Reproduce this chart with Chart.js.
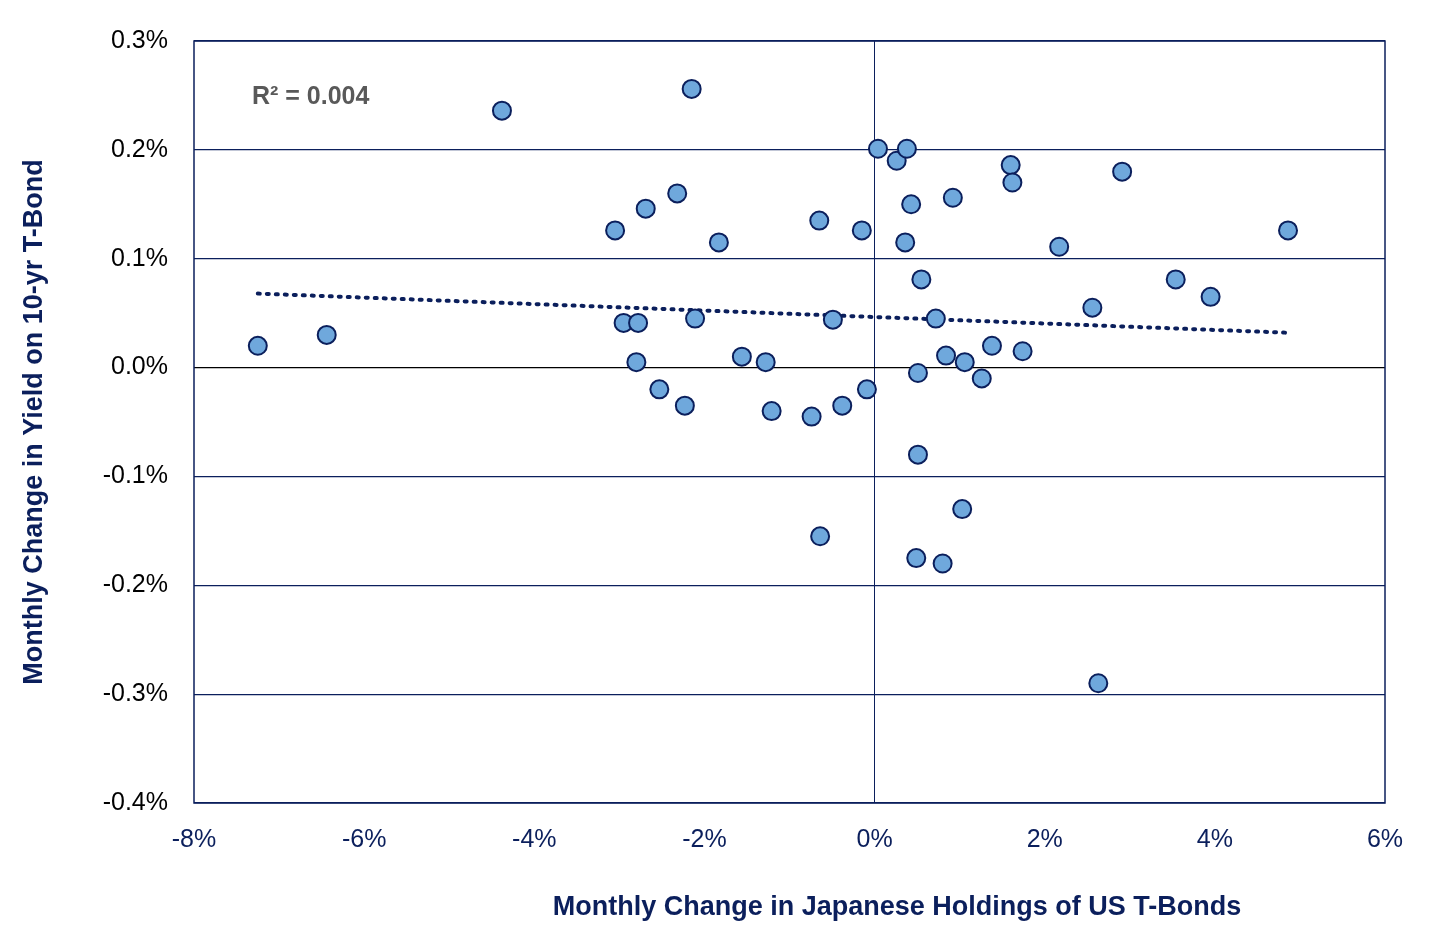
<!DOCTYPE html>
<html><head><meta charset="utf-8">
<script src="https://cdn.jsdelivr.net/npm/chart.js@4"></script>
<style>body{margin:0;background:#fff}#wrap{width:1456px;height:941px}</style>
</head><body><div id="wrap"><canvas id="c"></canvas></div>
<script>
// monthly change in Japanese holdings (%), monthly change in 10yr yield (%)
var holdings = [-7.25,-6.44,-4.38,-2.15,-3.05,-2.69,-2.32,-2.95,-2.78,-2.80,-2.53,-2.23,-2.11,-1.83,-1.56,-1.28,-1.21,-0.74,-0.65,-0.64,-0.49,-0.38,-0.15,-0.09,0.04,0.26,0.38,0.36,0.43,0.55,0.51,0.51,0.49,0.72,0.80,0.84,0.92,1.03,1.06,1.26,1.38,1.60,1.62,1.74,2.17,2.56,2.63,2.91,3.54,3.95,4.86];
var yieldChg = [0.020,0.030,0.236,0.256,0.126,0.146,0.160,0.041,0.041,0.005,-0.020,-0.035,0.045,0.115,0.010,0.005,-0.040,-0.045,0.135,-0.155,0.044,-0.035,0.126,-0.020,0.201,0.190,0.201,0.115,0.150,0.081,-0.005,-0.080,-0.175,0.045,-0.180,0.011,0.156,-0.130,0.005,-0.010,0.020,0.186,0.170,0.015,0.111,0.055,-0.290,0.180,0.081,0.065,0.126];
var trendStart = 0.068, trendEnd = 0.032;

var navy = '#0b1f5c';
var pts = holdings.map(function (x, i) { return {x: x, y: yieldChg[i]}; });
var xmin = Math.min.apply(null, holdings), xmax = Math.max.apply(null, holdings);

var frame = {
    id: 'frame',
    afterDraw: function (chart) {
        var a = chart.chartArea, ctx = chart.ctx;
        ctx.save();
        ctx.strokeStyle = navy; ctx.lineWidth = 1.5;
        ctx.strokeRect(a.left, a.top, a.right - a.left, a.bottom - a.top);
        ctx.fillStyle = '#595959';
        ctx.font = 'bold 25px "Liberation Sans"';
        ctx.textBaseline = 'middle';
        ctx.fillText('R² = 0.004', a.left + 58, 97);
        // x axis title sits a bit right of centre in the original
        ctx.fillStyle = navy;
        ctx.font = 'bold 27px "Liberation Sans"';
        ctx.textAlign = 'center';
        ctx.fillText('Monthly Change in Japanese Holdings of US T-Bonds', 897, 908);
        ctx.restore();
    }
};

new Chart(document.getElementById('c'), {
    type: 'scatter',
    data: {
        datasets: [{
            data: pts,
            pointRadius: 9, pointHoverRadius: 9,
            backgroundColor: '#6fa8dc', borderColor: navy, borderWidth: 2
        }, {
            type: 'line',
            data: [{x: xmin, y: trendStart}, {x: xmax, y: trendEnd}],
            borderColor: navy, borderWidth: 4, borderDash: [2, 7], borderCapStyle: 'round',
            pointRadius: 0, fill: false
        }]
    },
    options: {
        responsive: true, maintainAspectRatio: false, animation: false,
        layout: {padding: {top: 22, right: 71, left: 0, bottom: 0}},
        plugins: {legend: {display: false}, tooltip: {enabled: false}},
        scales: {
            x: {
                min: -8, max: 6,
                border: {display: false},
                grid: {color: function (c) { return c.tick.value === 0 ? navy : 'rgba(0,0,0,0)'; }, drawTicks: false},
                ticks: {stepSize: 2, color: navy, padding: 22, font: {size: 25, family: 'Liberation Sans'},
                    callback: function (v) { return Math.round(v) + '%'; }},
                afterFit: function (s) { s.height = 138; }
            },
            y: {
                min: -0.4, max: 0.3,
                border: {display: false},
                grid: {color: function (c) { return Math.abs(c.tick.value) < 1e-9 ? '#000' : navy; }, drawTicks: false, lineWidth: 1.2},
                ticks: {stepSize: 0.1, color: '#000', padding: 26, font: {size: 25, family: 'Liberation Sans'},
                    callback: function (v) { return (Math.round(v * 10) / 10 + 0).toFixed(1) + '%'; }},
                title: {display: true, text: 'Monthly Change in Yield on 10-yr T-Bond', color: navy,
                    font: {size: 27, weight: 'bold', family: 'Liberation Sans'}, padding: {top: 18, bottom: 0}},
                afterFit: function (s) { s.width = 194; }
            }
        }
    },
    plugins: [frame]
});
</script></body></html>
